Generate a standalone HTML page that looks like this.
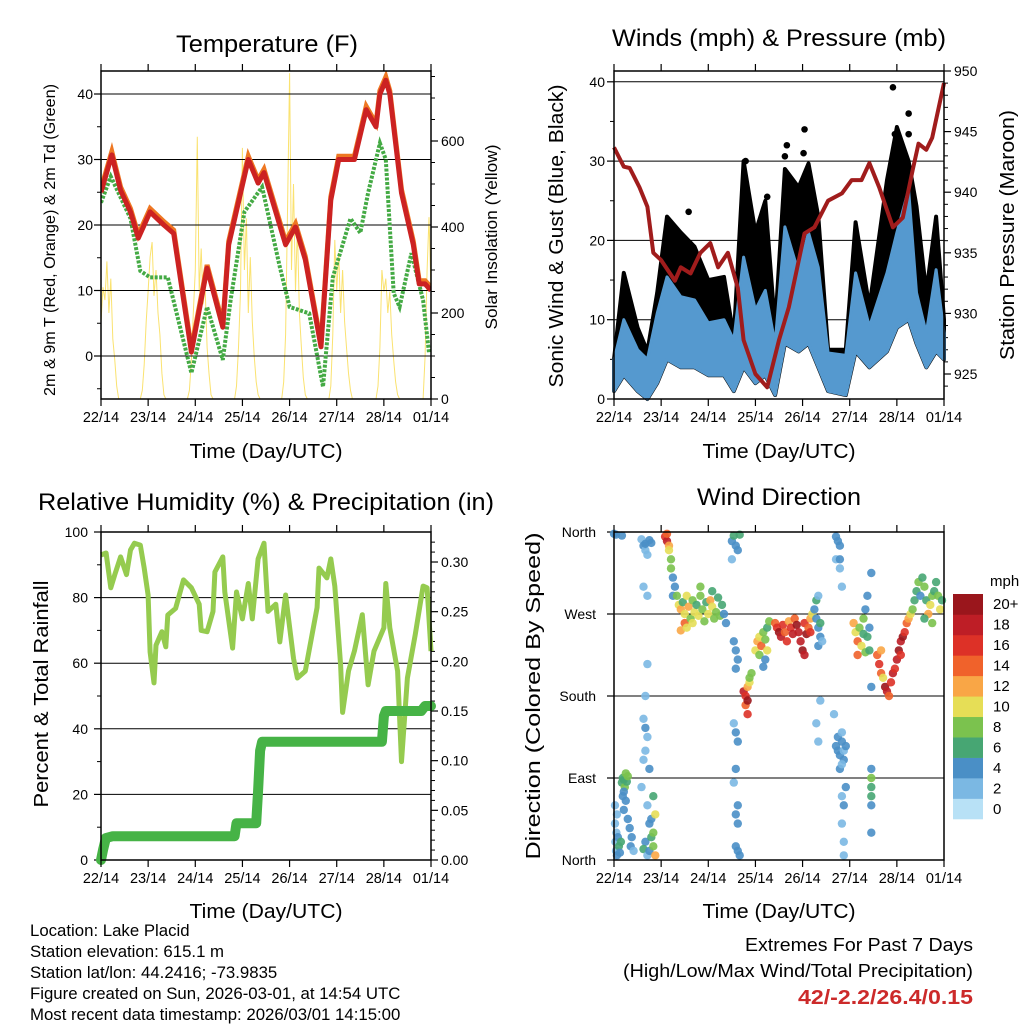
<!DOCTYPE html>
<html><head><meta charset="utf-8"><style>
html,body{margin:0;padding:0;background:#fff;}
svg{display:block;font-family:"Liberation Sans",sans-serif;}
</style></head><body>
<svg id="root" width="1024" height="1024" viewBox="0 0 1024 1024" xmlns="http://www.w3.org/2000/svg">
<rect width="1024" height="1024" fill="#fff"/>
<g id="p1"></g>
<g id="p2"></g>
<g id="p3"></g>
<g id="p4"></g>
<text x="267" y="52" font-size="24" text-anchor="middle" textLength="182" lengthAdjust="spacingAndGlyphs">Temperature (F)</text>
<text x="779" y="46" font-size="24" text-anchor="middle" textLength="334" lengthAdjust="spacingAndGlyphs">Winds (mph) &amp; Pressure (mb)</text>
<text x="266" y="510" font-size="24" text-anchor="middle" textLength="456" lengthAdjust="spacingAndGlyphs">Relative Humidity (%) &amp; Precipitation (in)</text>
<text x="779" y="505" font-size="24" text-anchor="middle" textLength="164" lengthAdjust="spacingAndGlyphs">Wind Direction</text>
<text x="266" y="458" font-size="20" text-anchor="middle" textLength="153" lengthAdjust="spacingAndGlyphs">Time (Day/UTC)</text>
<text x="779" y="458" font-size="20" text-anchor="middle" textLength="153" lengthAdjust="spacingAndGlyphs">Time (Day/UTC)</text>
<text x="266" y="918" font-size="20" text-anchor="middle" textLength="153" lengthAdjust="spacingAndGlyphs">Time (Day/UTC)</text>
<text x="779" y="918" font-size="20" text-anchor="middle" textLength="153" lengthAdjust="spacingAndGlyphs">Time (Day/UTC)</text>
<text transform="translate(55,240) rotate(-90)" font-size="16" text-anchor="middle" textLength="312" lengthAdjust="spacingAndGlyphs">2m &amp; 9m T (Red, Orange) &amp; 2m Td (Green)</text>
<text transform="translate(497,237) rotate(-90)" font-size="17" text-anchor="middle" textLength="185" lengthAdjust="spacingAndGlyphs">Solar Insolation (Yellow)</text>
<text transform="translate(563,236) rotate(-90)" font-size="20" text-anchor="middle" textLength="303" lengthAdjust="spacingAndGlyphs">Sonic Wind &amp; Gust (Blue, Black)</text>
<text transform="translate(1014,235) rotate(-90)" font-size="20" text-anchor="middle" textLength="250" lengthAdjust="spacingAndGlyphs">Station Pressure (Maroon)</text>
<text transform="translate(48,694) rotate(-90)" font-size="20" text-anchor="middle" textLength="227" lengthAdjust="spacingAndGlyphs">Percent &amp; Total Rainfall</text>
<text transform="translate(540,696) rotate(-90)" font-size="20" text-anchor="middle" textLength="327" lengthAdjust="spacingAndGlyphs">Direction (Colored By Speed)</text>
<g font-size="16.8">
<text x="30" y="936">Location: Lake Placid</text>
<text x="30" y="957">Station elevation: 615.1 m</text>
<text x="30" y="978">Station lat/lon: 44.2416; -73.9835</text>
<text x="30" y="999">Figure created on Sun, 2026-03-01, at 14:54 UTC</text>
<text x="30" y="1020">Most recent data timestamp: 2026/03/01 14:15:00</text>
</g>
<text x="973" y="951" font-size="18.5" text-anchor="end" textLength="228" lengthAdjust="spacingAndGlyphs">Extremes For Past 7 Days</text>
<text x="973" y="977" font-size="18.5" text-anchor="end" textLength="350" lengthAdjust="spacingAndGlyphs">(High/Low/Max Wind/Total Precipitation)</text>
<text x="973" y="1004" font-size="20" font-weight="bold" fill="#cc2a2a" text-anchor="end" textLength="175" lengthAdjust="spacingAndGlyphs">42/-2.2/26.4/0.15</text>
</svg>
<script>
const dayLabels=["22/14","23/14","24/14","25/14","26/14","27/14","28/14","01/14"];
const tempHr=[0,5.5,10,15,19,25,32,37,46,54,62,65,75,80,83,94,99,104,112,117,121,129,135,140,142,145,147,153,159,162,165,168];
const tempVal=[25,30.7,25.3,22,18,22,20,18.7,0.6,13.4,4.4,17,30,26.4,28,17,19.7,14.7,1.4,23.8,30,30,37.6,35,40,42.1,40,24.9,17,11,11,10];
const dewHr=[0,5,15,20,25,34,46,54,62,66,73,82,91,96,106,113,118,127,132,136,142,145,149,152,158,164,167];
const dewVal=[23.4,27.4,21,13,12,12,-2.6,7.5,-0.6,8.5,22,25.8,13.6,7.5,6.5,-4.7,12,21,18.8,24.9,32.5,30,9.6,7.5,15.7,8.5,0.5];
const solarVal=[180,260,230,320,200,280,140,90,30,0, 0,0,0,0,0,0,0,0,0,0,0,
20,80,180,250,330,365,240,300,200,150,60,10,0, 0,0,0,0,0,0,0,0,0,0,0,
20,90,200,300,610,250,350,220,260,120,60,10,0, 0,0,0,0,0,0,0,0,0,0,0,
30,120,250,584,300,420,200,330,180,100,40,10,0, 0,0,0,0,0,0,0,0,0,0,0,
40,150,450,758,300,500,250,400,200,120,50,10,0, 0,0,0,0,0,0,0,0,0,0,0,
30,150,370,250,340,200,300,180,120,60,20,0,0, 0,0,0,0,0,0,0,0,0,0,0,
30,120,300,250,280,200,250,150,90,40,10,0,0, 0,0,0,0,0,0,0,0,0,0,0,
100,300,423,250];
const windHr=[0,5,12,17,22,27,34,41,48,56,61,66,72,77,82,87,94,99,104,109,118,123,130,139,144,150,154,159,164,168];
const windHigh=[4.9,10,6.2,5,10.8,15.4,12.9,12.5,9.6,10,7.4,17.9,11.2,13.7,6.9,21.7,15.9,21,16.6,5.8,5.5,15.9,9.1,15.9,21,26.4,13.4,8.3,16.3,8.3];
const windLow=[1,3,1,0,2,5,4,4,3,3,1,4,2,3,0.5,7,6,7,4,1,0.5,6,4,6,9,10,7,4,6,5];
const gustHigh=[5,15.9,9,6,13.4,23,21,19.2,15,15.4,7.8,30,21,25,9,29,26.7,29.7,23,6.2,6.2,22.3,11.6,27.6,34.3,30,24.3,13.4,23,10];
const gustOutHr=[142,143,150,150,97,96.5,88,87,67,38,78];
const gustOutVal=[39.3,33.4,36,33.4,34,31,32,30.6,30,23.6,25.5];
const presHr=[0,5,8,13,17,20,24,31,34,39,44,49,53,58,63,66,72,78,84,89,97,102,109,116,121,126,130,135,142,147,152,155,159,162,168];
const presVal=[943.7,942.1,942,940.4,938.8,935,934.4,932.7,933.8,933.3,935,935.8,933.8,935,932.1,927.8,925,923.9,927.8,930.5,936.6,937.1,939.3,939.9,941,941,942.4,940.4,937.1,937.9,941.8,944,943.5,944.5,949];
const rhHr=[0,2.6,5,7,10,13,15,17,20,22,24,25,27,28,31,33,34,38,42,46,50,51,54,57,58,62,63,67,69,72,75,77,80,83,85,89,91,94,98,100,104,110,111,115,117,119,122,123,126,129,133,136,139,144,145,147,151,153,156,160,164,166,168];
const rhVal=[93,93.6,83,87,92.4,87,94.5,96.6,96,89,80.8,63.4,54,65.5,69.6,65,74.7,76.7,85.4,83,78,70,69.6,75.8,87.8,92.4,81.7,64.6,81.7,73.5,84.3,73.5,91.8,96.6,75.8,78,66.5,80.8,61.5,55.5,57.6,77,89,86,91.8,83.5,59.5,45,57.6,63.7,74.8,53.4,63.7,70.8,84.3,70.8,57.6,30,55.5,68.8,83.5,83,63.7];
const precipHr=[0,1,2.5,6,68,69,79,80,81,82,143,144,145,163,165,168];
const precipVal=[0,0.01,0.022,0.024,0.024,0.037,0.037,0.07,0.11,0.119,0.119,0.145,0.15,0.15,0.155,0.155];
const dirPts=[[0,358,3],[1,357,4],[4,356,4],[0.5,60,2],[0.5,40,2],[0.7,20,1],[1,10,2],[1.2,30,2],[1.5,5,3],[2,25,4],[2.5,15,5],[3,8,4],[3.5,20,6],[1.5,50,1],
[4,85,5],[4.5,90,6],[5,88,6],[5.5,80,7],[6,95,7],[6.5,86,6],[5,75,4],[7,92,8],[4.5,70,4],[6,65,3],[5,55,4],[7,45,3],[8,35,4],[9,25,3],[8.5,15,3],[10,10,2],
[14,352,2],[15,345,3],[16,340,2],[17,335,1],[16,347,4],[15,300,1],[17,290,1],[18,351,3],[19,348,4],
[15,155,2],[16,145,3],[17,135,2],[16,120,1],[15,110,2],[14,80,1],[17,60,2],[18,40,4],[16,20,3],[15,12,5],[17,5,2],[18,10,3],[19,25,6],[20,15,7],[21,5,12],[20,30,8],[19,45,4],[20,70,5],[21,50,9],[18,100,4],[17,215,2],[16,180,1],
[26,355,16],[27,350,18],[27,358,14],[28,345,12],[28,340,10],[29,330,8],[29,320,7],[30,310,4],[31,300,4],[30,290,3],
[32,290,8],[33,280,10],[34,275,12],[35,283,6],[36,270,10],[36,260,14],[37,290,9],[38,278,11],[39,265,8],[40,285,7],[41,272,10],[42,280,6],[43,268,9],[44,290,8],[45,275,7],[46,262,8],[47,283,6],[48,270,9],[49,285,11],[50,278,10],[51,265,7],[52,272,8],[53,288,6],[54,268,7],[55,280,5],[56,270,4],[57,260,3],[34,252,12],[40,260,9],[50,295,6],[44,300,7],[37,255,10],
[60,350,4],[61,356,5],[62,345,4],[63,340,3],[64,357,6],[61,240,3],[62,230,4],[63,220,3],[62,210,4],[61,150,2],[62,140,3],[63,130,4],[62,100,4],[61,85,2],[63,60,4],[62,50,3],[63,40,4],[62,15,3],[63,10,4],[64,5,3],[60,330,1],
[66,185,18],[67,180,16],[67,170,14],[68,190,12],[68,175,20],[69,195,10],[69,200,8],[70,205,7],[68,160,15],
[72,230,10],[73,240,12],[74,225,8],[74,245,10],[75,235,14],[76,250,8],[77,242,7],[78,230,9],[78,255,6],[79,262,7],[77,220,4],[76,212,4],
[82,260,14],[83,255,16],[84,250,20],[85,245,18],[86,258,16],[87,250,14],[88,240,15],[89,262,12],[90,255,16],[91,248,18],[92,265,14],[93,258,20],[94,250,18],[95,240,17],[96,230,20],[97,260,16],[98,248,20],[99,255,14],[100,265,12],[101,270,10],[100,250,16],[97,225,18],
[102,275,4],[103,265,4],[104,255,3],[105,245,3],[104,235,4],[103,285,6],[105,260,6],[106,240,2],[104,290,2],[103,150,2],[104,130,1],[105,175,2],
[113,125,4],[114,120,4],[115,115,3],[116,130,4],[117,110,4],[115,100,3],[117,120,2],[118,125,4],[114,135,3],[116,105,2],[116,140,2],[112,160,1],
[113,355,3],[114,350,4],[115,345,4],[113,330,1],[115,320,2],[116,300,1],[116,70,2],[117,60,3],[116,40,2],[117,20,1],[117,5,1],[118,80,4],[115,330,3],
[122,260,12],[123,250,10],[124,240,14],[125,255,8],[126,235,10],[127,248,6],[128,228,8],[129,245,6],[130,255,4],[130,230,6],[127,265,8],[128,275,4],[129,290,4],[124,225,14],
[131,70,6],[131,80,6],[131,90,8],[131,60,4],[131,100,4],[131,30,4],[131,315,4],[131,190,4],
[134,225,14],[135,215,16],[136,205,14],[137,200,10],[138,190,20],[139,185,18],[140,180,14],[141,195,16],[142,205,18],[136,230,12],
[143,210,16],[144,220,18],[145,230,20],[146,240,18],[147,245,20],[148,250,16],[149,260,14],[150,265,12],[151,270,10],[146,225,16],
[152,275,8],[153,285,6],[154,295,6],[155,305,8],[156,290,4],[157,310,6],[158,300,8],[159,285,6],[160,270,12],[161,280,10],[162,290,8],[163,295,6],[164,305,6],[165,290,8],[166,275,10],[167,285,6],[158,265,6],[162,260,8]];
const speedLabels=["0","2","4","6","8","10","12","14","16","18","20+"];
const speedColors=["#b8e1f6","#7bb8e3","#4a8fc6","#47a673","#7bc24e","#e6de56","#f9a646","#f0622b","#dd3127","#be1e26","#9a161c"];

const NS="http://www.w3.org/2000/svg";
function mk(parent,tag,attrs){const e=document.createElementNS(NS,tag);for(const k in attrs)e.setAttribute(k,attrs[k]);parent.appendChild(e);return e;}
function txt(parent,x,y,s,size,anchor){const t=mk(parent,'text',{x:x,y:y,'font-size':size,'text-anchor':anchor});t.textContent=s;return t;}
function xs(x0,x1){return h=>x0+(x1-x0)*h/168;}
function pathOf(hs,vs,fx,fy){return hs.map((h,i)=>(i?'L':'M')+fx(h).toFixed(1)+','+fy(vs[i]).toFixed(1)).join('');}

function frame(g,x0,x1,y0,y1,name){
  const r=mk(g,'rect',{x:x0,y:y0,width:x1-x0,height:y1-y0,fill:'none',stroke:'#000','stroke-width':1.5});
  
  
  const fx=xs(x0,x1);
  for(let d=0;d<8;d++){const x=fx(d*24);
    mk(g,'line',{x1:x,x2:x,y1:y1,y2:y1+7,stroke:'#000','stroke-width':1.2});
    mk(g,'line',{x1:x,x2:x,y1:y0,y2:y0-7,stroke:'#000','stroke-width':1.2});
    const t=txt(g,x,y1+23,dayLabels[d],14.5,'middle');
    
    
  }
}
function yTicks(g,x0,x1,ticks,fy,labels,side,grid,lx){
  ticks.forEach((v,i)=>{const y=fy(v);
    if(grid) mk(g,'line',{x1:x0,x2:x1,y1:y,y2:y,stroke:'#000','stroke-width':1});
    const xe=side==='L'?x0:x1, d=side==='L'?-7:7;
    mk(g,'line',{x1:xe,x2:xe+d,y1:y,y2:y,stroke:'#000','stroke-width':1.2});
    const t=txt(g,lx,y+5,labels[i],14,side==='L'?'end':'start');
    
    
  });
}
function minor(g,x,vals,fy,d){vals.forEach(v=>{const y=fy(v);mk(g,'line',{x1:x,x2:x+d,y1:y,y2:y,stroke:'#000','stroke-width':1});});}

/* Panel 1 temperature */
(function(){
  const g=document.getElementById('p1');const x0=101,x1=431,y0=71,y1=399;const fx=xs(x0,x1);
  const fy=v=>356-v*6.55, fs=s=>399-s*0.43;
  const cp=mk(g,'clipPath',{id:'c1'});mk(cp,'rect',{x:x0,y:y0,width:x1-x0,height:y1-y0});
  const sol=mk(g,'path',{d:pathOf(solarVal.map((v,i)=>i),solarVal,fx,fs),fill:'none',stroke:'#f8d840','stroke-width':1,'stroke-opacity':0.75,'clip-path':'url(#c1)'});
  
  
  yTicks(g,x0,x1,[0,10,20,30,40],fy,['0','10','20','30','40'],'L',true,93);
  minor(g,x0,[-5,5,15,25,35],fy,-4);
  yTicks(g,x0,x1,[0,200,400,600],fs,['0','200','400','600'],'R',false,441);
  minor(g,x1,[50,100,150,250,300,350,450,500,550,650,700,750],fs,4);
  const dew=mk(g,'path',{d:pathOf(dewHr,dewVal,fx,fy),fill:'none',stroke:'#44aa44','stroke-width':4,'stroke-dasharray':'3 1.5','clip-path':'url(#c1)'});
  
  
  const t9=mk(g,'path',{d:pathOf(tempHr,tempVal.map(v=>v+0.5),fx,fy),fill:'none',stroke:'#ee7722','stroke-width':5,'clip-path':'url(#c1)'});
  
  
  const t2=mk(g,'path',{d:pathOf(tempHr,tempVal,fx,fy),fill:'none',stroke:'#cc2222','stroke-width':5,'stroke-linejoin':'round','clip-path':'url(#c1)'});
  
  
  frame(g,x0,x1,y0,y1,'temperature-plot-frame');
})();

/* Panel 2 winds */
(function(){
  const g=document.getElementById('p2');const x0=614,x1=944,y0=71,y1=399;const fx=xs(x0,x1);
  const fy=v=>399-v*7.93, fp=p=>71+(950-p)*12.12;
  yTicks(g,x0,x1,[0,10,20,30,40],fy,['0','10','20','30','40'],'L',true,605);
  minor(g,x0,[5,15,25,35],fy,-4);
  yTicks(g,x0,x1,[925,930,935,940,945,950],fp,['925','930','935','940','945','950'],'R',false,954);
  const mnr=[];for(let p=924;p<950;p++)if(p%5)mnr.push(p);minor(g,x1,mnr,fp,4);
  const gust=mk(g,'path',{d:pathOf(windHr,gustHigh,fx,fy)+pathOf(windHr.slice().reverse(),windLow.slice().reverse(),fx,fy).replace('M','L')+'Z',fill:'#000',stroke:'#000','stroke-width':4,'stroke-linejoin':'round'});
  
  
  gustOutHr.forEach((h,i)=>{const c=mk(g,'circle',{cx:fx(h),cy:fy(gustOutVal[i]),r:3.3,fill:'#000'});
    
    });
  const blue=mk(g,'path',{d:pathOf(windHr,windHigh,fx,fy)+pathOf(windHr.slice().reverse(),windLow.slice().reverse(),fx,fy).replace('M','L')+'Z',fill:'#5599cf',stroke:'#5599cf','stroke-width':3,'stroke-linejoin':'round'});
  
  
  const pr=mk(g,'path',{d:pathOf(presHr,presVal,fx,fp),fill:'none',stroke:'#a01c1c','stroke-width':4,'stroke-linejoin':'round'});
  
  
  frame(g,x0,x1,y0,y1,'winds-plot-frame');
})();

/* Panel 3 humidity */
(function(){
  const g=document.getElementById('p3');const x0=101,x1=431,y0=532,y1=860;const fx=xs(x0,x1);
  const fy=v=>860-v*3.28, fp=p=>860-p*993.3;
  yTicks(g,x0,x1,[0,20,40,60,80,100],fy,['0','20','40','60','80','100'],'L',true,88);
  minor(g,x0,[10,30,50,70,90],fy,-4);
  yTicks(g,x0,x1,[0,0.05,0.10,0.15,0.20,0.25,0.30],fp,['0.00','0.05','0.10','0.15','0.20','0.25','0.30'],'R',false,441);
  const mn=[];for(let i=1;i<33;i++)if(i%5)mn.push(i/100);minor(g,x1,mn,fp,4);
  const rh=mk(g,'path',{d:pathOf(rhHr,rhVal,fx,fy),fill:'none',stroke:'#95cb4f','stroke-width':5,'stroke-linejoin':'round'});
  
  
  const pc=mk(g,'path',{d:pathOf(precipHr,precipVal,fx,fp),fill:'none',stroke:'#46b346','stroke-width':10,'stroke-linejoin':'round','stroke-linecap':'round'});
  
  
  frame(g,x0,x1,y0,y1,'humidity-plot-frame');
})();

/* Panel 4 wind direction */
(function(){
  const g=document.getElementById('p4');const x0=614,x1=944,y0=532,y1=860;const fx=xs(x0,x1);
  const fy=d=>860-d*0.9111;
  yTicks(g,x0,x1,[0,90,180,270,360],fy,['North','East','South','West','North'],'L',true,596);
  dirPts.forEach(p=>{const idx=Math.min(10,Math.round(p[2]/2));
    const c=mk(g,'circle',{cx:fx(p[0]).toFixed(1),cy:fy(p[1]).toFixed(1),r:4.2,fill:speedColors[idx],'fill-opacity':0.9});
    
    });
  frame(g,x0,x1,y0,y1,'direction-plot-frame');
  const cb=mk(g,'g',{});
  
  
  const t=txt(cb,990,586,'mph',15,'start');
  
  
  const h=225/11;
  speedLabels.forEach((l,i)=>{const y=594+(10-i)*h;
    const r=mk(cb,'rect',{x:953,y:y,width:30,height:h+0.3,fill:speedColors[i]});
    
    
    const tt=txt(cb,993,y+h/2+5,l,15,'start');
    
    
  });
})();
</script>
</body></html>
